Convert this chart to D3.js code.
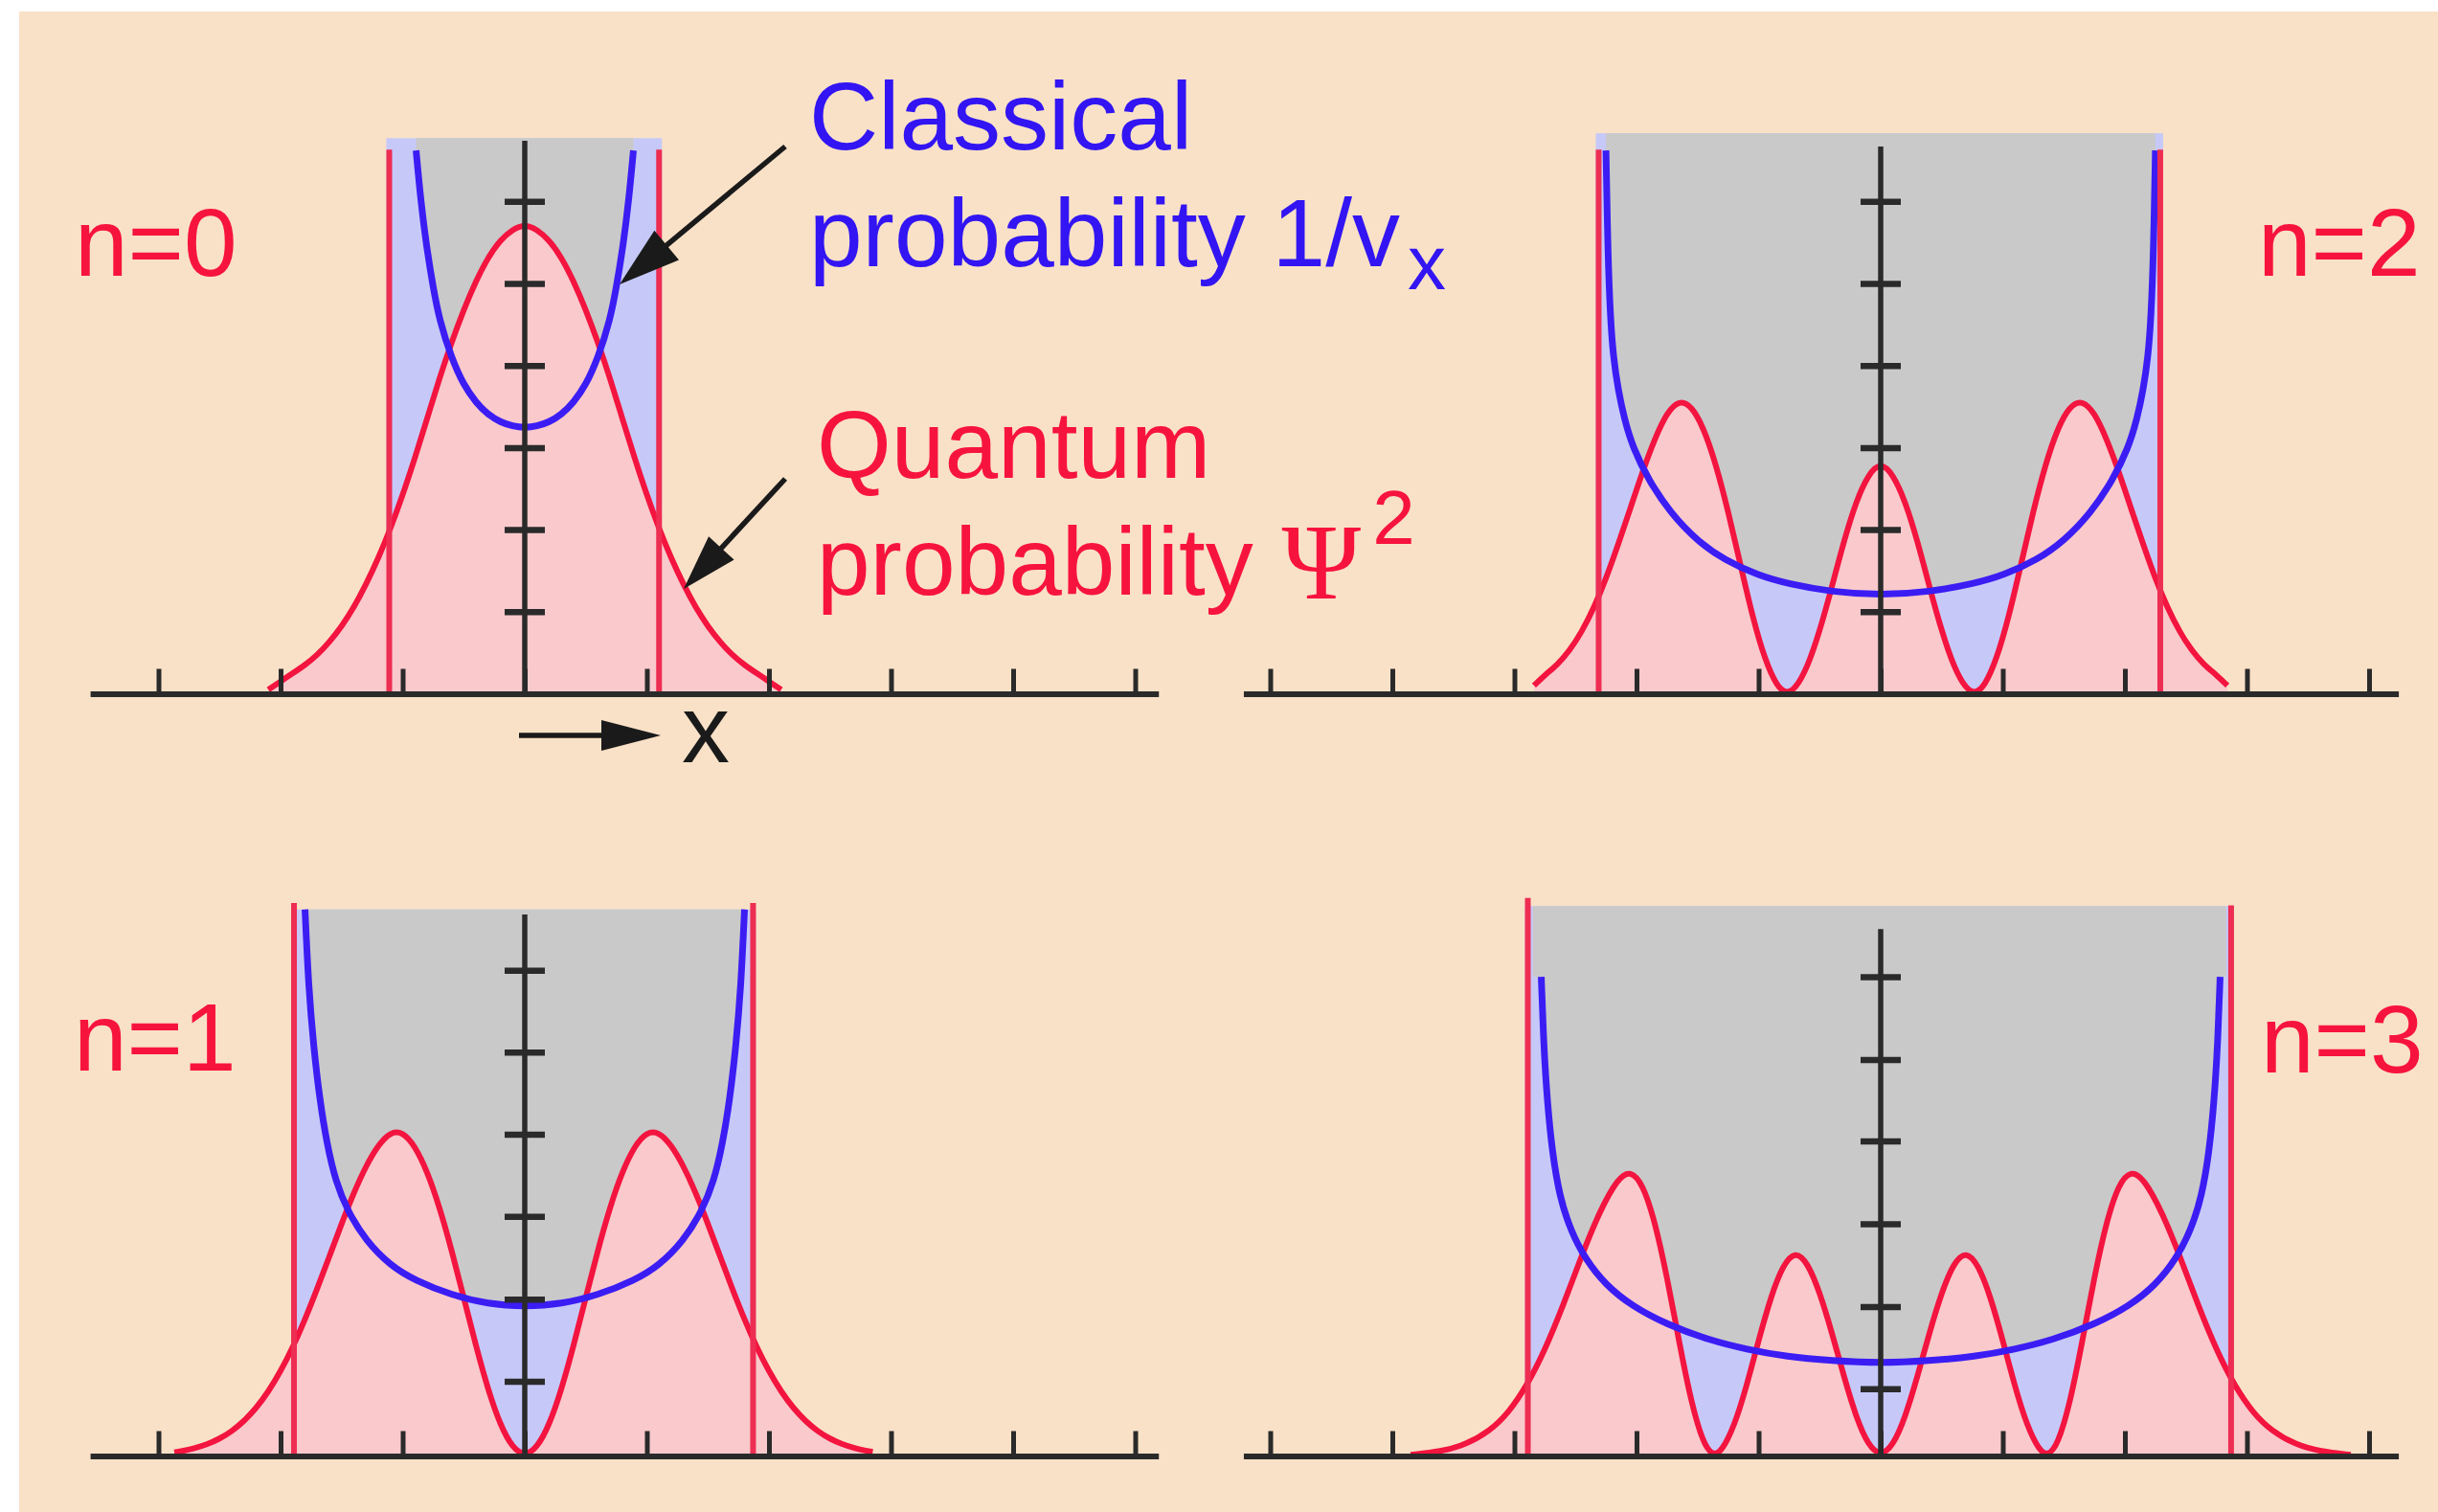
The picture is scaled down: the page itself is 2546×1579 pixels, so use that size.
<!DOCTYPE html>
<html><head><meta charset="utf-8">
<script src="https://cdn.jsdelivr.net/npm/d3@7"></script>
<style>body{margin:0;background:#fff;overflow:hidden}</style>
</head><body>
<svg id="chart" width="2546" height="1579"></svg>
<script>
// ---------------- DATA (x in x-tick units, y in y-tick units) ----------------
const stateLabels = ["n=0", "n=1", "n=2", "n=3"];
const xTicksLeft = [-3, -2, -1, 0, 1, 2, 3, 4, 5];
const xTicksRight = [-5, -4, -3, -2, -1, 0, 1, 2, 3, 4];
const yTicksN0 = [1, 2, 3, 4, 5, 6];
const yTicksN1 = [0.91, 1.91, 2.92, 3.92, 4.92, 5.92];
const yTicksN2 = [1, 2, 3, 4, 5, 6];
const yTicksN3 = [0.82, 1.82, 2.83, 3.84, 4.83, 5.84];

// classical turning points (red vertical lines)
const turningN0 = [-1.11, 1.10];
const turningN1 = [-1.89, 1.87];
const turningN2 = [-2.31, 2.29];
const turningN3 = [-2.89, 2.87];

// quantum probability psi^2
const quantumN0 = [[-2.10,0.05],[-2.0,0.15],[-1.9,0.25],[-1.8,0.35],[-1.7,0.47],[-1.6,0.63],[-1.5,0.82],[-1.4,1.05],[-1.3,1.33],[-1.2,1.65],[-1.1,2.01],[-1.0,2.42],[-0.9,2.87],[-0.8,3.35],[-0.7,3.84],[-0.6,4.28],[-0.5,4.68],[-0.4,5.03],[-0.3,5.32],[-0.2,5.53],[-0.1,5.66],[0,5.72],
  [0.1,5.66],[0.2,5.53],[0.3,5.32],[0.4,5.03],[0.5,4.68],[0.6,4.28],[0.7,3.84],[0.8,3.35],[0.9,2.87],[1.0,2.42],[1.1,2.01],[1.2,1.65],[1.3,1.33],[1.4,1.05],[1.5,0.82],[1.6,0.63],[1.7,0.47],[1.8,0.35],[1.9,0.25],[2.0,0.15],[2.10,0.05]];
const quantumN1 = [[-2.87,0.045],[-2.8,0.062],[-2.7,0.095],[-2.6,0.142],[-2.5,0.209],[-2.4,0.300],[-2.3,0.423],[-2.2,0.582],[-2.1,0.783],[-2.0,1.030],[-1.9,1.323],[-1.8,1.662],[-1.7,2.036],[-1.6,2.433],[-1.5,2.832],[-1.4,3.209],[-1.3,3.536],[-1.2,3.790],[-1.1,3.950],[-1.0,3.950],[-0.9,3.780],[-0.8,3.471],[-0.7,3.044],[-0.6,2.517],[-0.5,1.931],[-0.4,1.341],[-0.3,0.804],[-0.2,0.374],[-0.1,0.096],[0,0],
  [0.1,0.096],[0.2,0.374],[0.3,0.804],[0.4,1.341],[0.5,1.931],[0.6,2.517],[0.7,3.044],[0.8,3.471],[0.9,3.780],[1.0,3.950],[1.1,3.950],[1.2,3.790],[1.3,3.536],[1.4,3.209],[1.5,2.832],[1.6,2.433],[1.7,2.036],[1.8,1.662],[1.9,1.323],[2.0,1.030],[2.1,0.783],[2.2,0.582],[2.3,0.423],[2.4,0.300],[2.5,0.209],[2.6,0.142],[2.7,0.095],[2.8,0.062],[2.85,0.05]];
const quantumN2 = [[-2.84,0.10],[-2.75,0.23],[-2.65,0.35],[-2.55,0.52],[-2.45,0.75],[-2.35,1.04],[-2.25,1.40],[-2.15,1.82],[-2.05,2.26],[-1.95,2.71],[-1.85,3.11],[-1.75,3.43],[-1.65,3.58],[-1.55,3.51],[-1.45,3.24],[-1.35,2.80],[-1.25,2.23],[-1.15,1.58],[-1.05,0.94],[-0.95,0.42],[-0.85,0.086],[-0.77,0],[-0.7,0.056],[-0.6,0.32],[-0.5,0.76],[-0.4,1.30],[-0.3,1.87],[-0.2,2.35],[-0.1,2.68],[0,2.82],
  [0.1,2.68],[0.2,2.35],[0.3,1.87],[0.4,1.30],[0.5,0.76],[0.6,0.32],[0.7,0.056],[0.77,0],[0.85,0.086],[0.95,0.42],[1.05,0.94],[1.15,1.58],[1.25,2.23],[1.35,2.80],[1.45,3.24],[1.55,3.51],[1.65,3.58],[1.75,3.43],[1.85,3.11],[1.95,2.71],[2.05,2.26],[2.15,1.82],[2.25,1.40],[2.35,1.04],[2.45,0.75],[2.55,0.52],[2.65,0.35],[2.75,0.23],[2.84,0.10]];
const quantumN3 = [[-3.85,0.015],[-3.6,0.055],[-3.4,0.136],[-3.2,0.306],[-3.05,0.524],[-2.9,0.85],[-2.75,1.29],[-2.6,1.835],[-2.45,2.44],[-2.3,2.99],[-2.15,3.39],[-2.05,3.48],[-1.95,3.32],[-1.85,2.864],[-1.75,2.185],[-1.65,1.384],[-1.55,0.638],[-1.45,0.135],[-1.37,0],[-1.3,0.063],[-1.2,0.36],[-1.1,0.84],[-1.0,1.41],[-0.9,1.94],[-0.8,2.33],[-0.7,2.50],[-0.6,2.36],[-0.5,2.0],[-0.4,1.507],[-0.3,0.961],[-0.2,0.466],[-0.1,0.123],[0,0],
  [0.1,0.123],[0.2,0.466],[0.3,0.961],[0.4,1.507],[0.5,2.0],[0.6,2.36],[0.7,2.50],[0.8,2.33],[0.9,1.94],[1.0,1.41],[1.1,0.84],[1.2,0.36],[1.3,0.063],[1.37,0],[1.45,0.135],[1.55,0.638],[1.65,1.384],[1.75,2.185],[1.85,2.864],[1.95,3.32],[2.05,3.48],[2.15,3.39],[2.3,2.99],[2.45,2.44],[2.6,1.835],[2.75,1.29],[2.9,0.85],[3.05,0.524],[3.2,0.306],[3.4,0.136],[3.6,0.055],[3.85,0.015]];

// classical probability 1/v
const classicalN0 = [[-0.89,6.62],[-0.85,5.98],[-0.8,5.40],[-0.75,4.95],[-0.7,4.56],[-0.6,4.09],[-0.5,3.76],[-0.4,3.55],[-0.3,3.40],[-0.2,3.31],[-0.1,3.26],[0,3.24],
  [0.1,3.26],[0.2,3.31],[0.3,3.40],[0.4,3.55],[0.5,3.76],[0.6,4.09],[0.7,4.56],[0.75,4.95],[0.8,5.40],[0.85,5.98],[0.89,6.62]];
const classicalN1 = [[-1.80,6.66],[-1.77,5.70],[-1.73,5.00],[-1.68,4.35],[-1.62,3.80],[-1.55,3.35],[-1.45,2.98],[-1.3,2.62],[-1.1,2.32],[-0.9,2.14],[-0.6,1.96],[-0.3,1.85],[0,1.82],
  [0.3,1.85],[0.6,1.96],[0.9,2.14],[1.1,2.32],[1.3,2.62],[1.45,2.98],[1.55,3.35],[1.62,3.80],[1.68,4.35],[1.73,5.00],[1.77,5.70],[1.80,6.66]];
const classicalN2 = [[-2.25,6.62],[-2.235,5.40],[-2.215,4.60],[-2.19,4.10],[-2.15,3.70],[-2.10,3.35],[-2.03,3.00],[-1.9,2.60],[-1.72,2.20],[-1.5,1.86],[-1.28,1.63],[-1.0,1.44],[-0.76,1.34],[-0.4,1.24],[0,1.20],
  [0.4,1.24],[0.76,1.34],[1.0,1.44],[1.28,1.63],[1.5,1.86],[1.72,2.20],[1.9,2.60],[2.03,3.00],[2.10,3.35],[2.15,3.70],[2.19,4.10],[2.215,4.60],[2.235,5.40],[2.25,6.62]];
const classicalN3 = [[-2.78,5.84],[-2.76,5.00],[-2.73,4.30],[-2.69,3.70],[-2.63,3.16],[-2.54,2.75],[-2.42,2.40],[-2.25,2.08],[-2.04,1.83],[-1.75,1.60],[-1.4,1.41],[-1.1,1.30],[-0.77,1.21],[-0.4,1.16],[0,1.13],
  [0.4,1.16],[0.77,1.21],[1.1,1.30],[1.4,1.41],[1.75,1.60],[2.04,1.83],[2.25,2.08],[2.42,2.40],[2.54,2.75],[2.63,3.16],[2.69,3.70],[2.73,4.30],[2.76,5.00],[2.78,5.84]];

const legendClassical = ["Classical", "probability 1/v", "x"];
const legendQuantum = ["Quantum", "probability ", "\u03A8", "2"];
const axisName = "x";

// ---------------- LAYOUT / STYLE ----------------
const W = 2546, H = 1579;
const PX_X = 127.5, PX_Y = 85.7;
const C = {
  bg: "#f9e1c7", gray: "#c9c9c9", lightBlue: "#c6c9f8", pink: "#f9c9cc",
  red: "#f3143f", redLine: "#ee2d52", blue: "#3b1df4", axis: "#2a2a2a",
  textRed: "#f7143c", textBlue: "#3215f2"
};
const panels = [
  {label: stateLabels[0], cx: 548, base: 724.5, xDom: [-3.56, 5.19], xTicks: xTicksLeft, yTicks: yTicksN0,
   turning: turningN0, quantum: quantumN0, classical: classicalN0, axisTop: 6.74, fillTop: 6.77, lineTop: [6.63, 6.63],
   grayToEdge: false, lx: 78, ly: 288},
  {label: stateLabels[1], cx: 548, base: 1520.5, xDom: [-3.56, 5.19], xTicks: xTicksLeft, yTicks: yTicksN1,
   turning: turningN1, quantum: quantumN1, classical: classicalN1, axisTop: 6.60, fillTop: 6.66, lineTop: [6.74, 6.74],
   grayToEdge: false, lx: 77, ly: 1118},
  {label: stateLabels[2], cx: 1964, base: 724.5, xDom: [-5.22, 4.24], xTicks: xTicksRight, yTicks: yTicksN2,
   turning: turningN2, quantum: quantumN2, classical: classicalN2, axisTop: 6.67, fillTop: 6.83, lineTop: [6.63, 6.63],
   grayToEdge: false, lx: 2358, ly: 288},
  {label: stateLabels[3], cx: 1964, base: 1520.5, xDom: [-5.22, 4.24], xTicks: xTicksRight, yTicks: yTicksN3,
   turning: turningN3, quantum: quantumN3, classical: classicalN3, axisTop: 6.42, fillTop: 6.70, lineTop: [6.80, 6.71],
   grayToEdge: true, lx: 2361, ly: 1120}
];

const svg = d3.select("#chart");
const defs = svg.append("defs");
svg.append("rect").attr("x", 0).attr("y", 0).attr("width", W).attr("height", H).attr("fill", "#ffffff");
svg.append("rect").attr("x", 20).attr("y", 12).attr("width", W - 20).attr("height", H - 12).attr("fill", C.bg);

const FONT = "'Liberation Sans', Arial, Helvetica, sans-serif";
const smooth = d3.curveBasis;

panels.forEach((p, pi) => {
  const x = d3.scaleLinear().domain([0, 1]).range([p.cx, p.cx + PX_X]);
  const y = d3.scaleLinear().domain([0, 1]).range([p.base, p.base - PX_Y]);
  const g = svg.append("g");

  const clipId = "clip" + pi;
  defs.append("clipPath").attr("id", clipId).append("rect")
    .attr("x", 0).attr("y", y(8)).attr("width", W).attr("height", y(0) - y(8));
  const cg = g.append("g").attr("clip-path", `url(#${clipId})`);

  // classical band (light blue)
  const bx0 = x(p.turning[0]) - 3, bx1 = x(p.turning[1]) + 3;
  cg.append("rect").attr("x", bx0).attr("y", y(p.fillTop))
    .attr("width", bx1 - bx0).attr("height", y(0) - y(p.fillTop)).attr("fill", C.lightBlue);

  // gray region above the classical curve
  let cData = p.classical.slice();
  if (p.grayToEdge) {
    cData = [[p.turning[0] + 0.04, cData[0][1]], ...cData, [p.turning[1] - 0.04, cData[cData.length - 1][1]]];
  }
  const grayArea = d3.area().x(d => x(d[0])).y0(y(p.fillTop)).y1(d => y(d[1])).curve(smooth);
  cg.append("path").datum(cData).attr("d", grayArea).attr("fill", C.gray);

  // pink region under the quantum curve
  const pinkArea = d3.area().x(d => x(d[0])).y0(y(0)).y1(d => y(d[1])).curve(smooth);
  cg.append("path").datum(p.quantum).attr("d", pinkArea).attr("fill", C.pink);

  // quantum curve
  const line = d3.line().x(d => x(d[0])).y(d => y(d[1])).curve(smooth);
  cg.append("path").datum(p.quantum).attr("d", line).attr("fill", "none")
    .attr("stroke", C.red).attr("stroke-width", 6).attr("stroke-linejoin", "round");
  // classical curve
  cg.append("path").datum(p.classical).attr("d", line).attr("fill", "none")
    .attr("stroke", C.blue).attr("stroke-width", 7).attr("stroke-linecap", "butt");

  // turning point lines
  p.turning.forEach((t, i) => {
    g.append("line").attr("x1", x(t)).attr("x2", x(t)).attr("y1", y(0)).attr("y2", y(p.lineTop[i]))
      .attr("stroke", C.redLine).attr("stroke-width", 6);
  });

  // x axis
  const xAxisScale = d3.scaleLinear().domain(p.xDom).range([x(p.xDom[0]), x(p.xDom[1])]);
  const xa = g.append("g").attr("transform", `translate(0,${y(0)})`)
    .call(d3.axisBottom(xAxisScale).tickValues(p.xTicks).tickSize(-26).tickSizeOuter(0).tickFormat(""));
  xa.select(".domain").attr("stroke", C.axis).attr("stroke-width", 6);
  xa.selectAll(".tick line").attr("stroke", C.axis).attr("stroke-width", 5);

  // vertical axis
  g.append("line").attr("x1", x(0)).attr("x2", x(0)).attr("y1", y(0)).attr("y2", y(p.axisTop))
    .attr("stroke", C.axis).attr("stroke-width", 5.5);
  const ya = g.append("g").attr("transform", `translate(${x(0) - 21},0)`)
    .call(d3.axisLeft(y).tickValues(p.yTicks).tickSize(-42).tickFormat(""));
  ya.select(".domain").remove();
  ya.selectAll(".tick line").attr("stroke", C.axis).attr("stroke-width", 6.5);

  // label
  svg.append("text").attr("x", p.lx).attr("y", p.ly).text(p.label)
    .attr("font-family", FONT).attr("font-size", 100).attr("fill", C.textRed);
});

// arrows
function arrow(x1, y1, x2, y2, hl, hw) {
  const dx = x2 - x1, dy = y2 - y1, L = Math.hypot(dx, dy), ux = dx / L, uy = dy / L;
  const bx = x2 - ux * hl, by = y2 - uy * hl;
  svg.append("line").attr("x1", x1).attr("y1", y1).attr("x2", bx + ux * 4).attr("y2", by + uy * 4)
    .attr("stroke", "#1a1a1a").attr("stroke-width", 5.5);
  svg.append("path").attr("d", `M${x2},${y2}L${bx - uy * hw},${by + ux * hw}L${bx + uy * hw},${by - ux * hw}Z`)
    .attr("fill", "#1a1a1a");
}
arrow(820, 153, 647, 297, 64, 20);
arrow(820, 500, 714, 615, 58, 18);
arrow(542, 768, 690, 768, 62, 16);
svg.append("text").attr("x", 712).attr("y", 796).text(axisName)
  .attr("font-family", FONT).attr("font-size", 100).attr("fill", "#1a1a1a");

// legend texts
svg.append("text").attr("x", 845).attr("y", 156).text(legendClassical[0])
  .attr("font-family", FONT).attr("font-size", 100).attr("fill", C.textBlue);
const t2 = svg.append("text").attr("x", 845).attr("y", 278)
  .attr("font-family", FONT).attr("font-size", 100).attr("fill", C.textBlue);
t2.append("tspan").text(legendClassical[1]);
t2.append("tspan").attr("font-size", 80).attr("dx", 8).attr("dy", 24).text(legendClassical[2]);

svg.append("text").attr("x", 853).attr("y", 499).text(legendQuantum[0])
  .attr("font-family", FONT).attr("font-size", 100).attr("fill", C.textRed);
const t4 = svg.append("text").attr("x", 853).attr("y", 621)
  .attr("font-family", FONT).attr("font-size", 100).attr("fill", C.textRed);
t4.append("tspan").text(legendQuantum[1]);
t4.append("tspan").attr("font-family", "'Liberation Serif', 'Times New Roman', serif").attr("font-size", 112).attr("dx", 2).attr("dy", 4).text(legendQuantum[2]);
t4.append("tspan").attr("font-size", 80).attr("dx", 12).attr("dy", -57).text(legendQuantum[3]);
</script>
</body></html>
